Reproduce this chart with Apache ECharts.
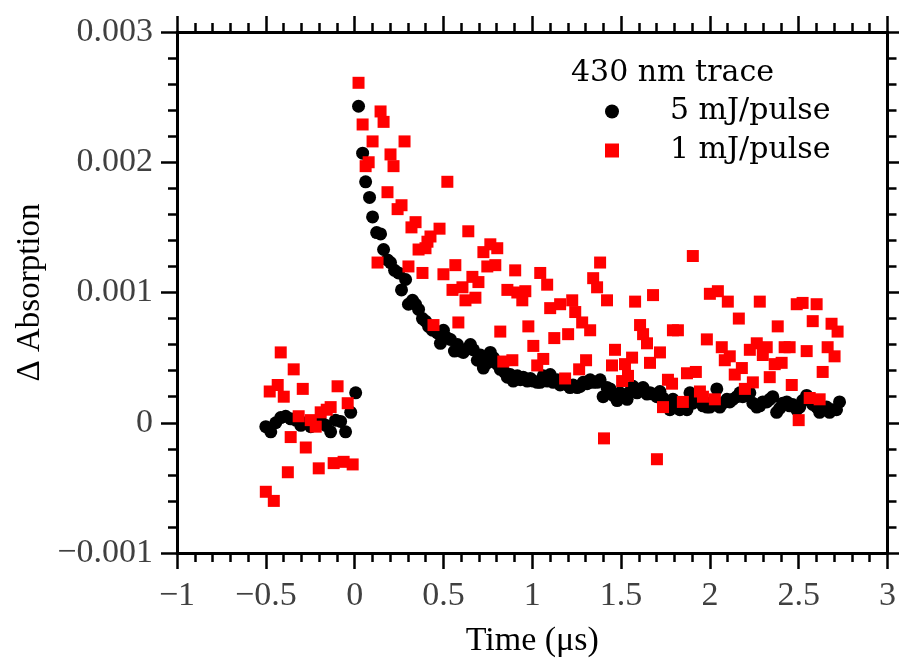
<!DOCTYPE html>
<html>
<head>
<meta charset="utf-8">
<script src="https://cdn.jsdelivr.net/npm/echarts@6/dist/echarts.min.js"></script>
<style>html,body{margin:0;padding:0;background:#fff;}#c{width:899px;height:664px;}</style>
</head>
<body>
<div id="c"></div>
<script>
// ---- data (time in µs, ΔAbsorption) ----
var blackTime = [
-0.500,-0.472,-0.444,-0.416,-0.388,-0.360,-0.331,-0.303,-0.275,-0.247,-0.219,-0.191,-0.163,-0.135,-0.107,-0.079,-0.051,-0.022,0.006,
0.022,0.045,0.062,0.084,0.101,0.124,0.146,0.163,0.185,0.202,0.225,0.247,0.264,0.287,0.303,0.326,0.343,0.360,0.382,0.399,
0.416,0.438,0.466,0.483,0.500,0.522,0.539,0.562,0.579,0.596,0.612,0.635,0.652,0.669,0.691,0.708,0.725,0.747,0.764,0.781,
0.803,0.820,0.843,0.860,0.876,0.893,0.916,0.933,0.949,0.972,0.989,1.006,1.028,1.045,1.062,1.084,1.101,1.118,1.140,1.157,
1.174,1.197,1.213,1.230,1.253,1.270,1.287,1.309,1.326,1.343,1.365,1.382,1.399,1.421,1.438,1.455,1.478,1.494,1.511,1.534,
1.551,1.567,1.590,1.607,1.624,1.646,1.663,1.680,1.702,1.719,1.736,1.758,1.775,1.792,1.815,1.831,1.848,1.871,1.888,1.904,
1.927,1.944,1.961,1.983,2.000,2.017,2.039,2.056,2.073,2.096,2.112,2.129,2.152,2.169,2.185,2.208,2.225,2.242,2.264,2.281,
2.298,2.320,2.337,2.354,2.376,2.393,2.410,2.433,2.449,2.466,2.489,2.506,2.522,2.545,2.562,2.579,2.601,2.618,2.635,2.657,
2.674,2.691,2.713,2.730
];
var blackAbs = [
-0.00003,-0.00007,0.00000,0.00004,0.00005,0.00003,0.00002,-0.00002,0.00000,-0.00003,0.00001,0.00001,-0.00002,-0.00007,0.00002,0.00001,-0.00007,0.00008,0.00023,
0.00243,0.00207,0.00185,0.00173,0.00158,0.00146,0.00145,0.00133,0.00125,0.00123,0.00117,0.00115,0.00102,0.00110,0.00091,0.00094,0.00091,0.00087,0.00080,0.00078,
0.00074,0.00071,0.00069,0.00061,0.00071,0.00065,0.00064,0.00055,0.00060,0.00055,0.00054,0.00057,0.00060,0.00056,0.00048,0.00052,0.00042,0.00046,0.00054,0.00050,
0.00045,0.00041,0.00039,0.00035,0.00037,0.00032,0.00036,0.00033,0.00035,0.00032,0.00034,0.00032,0.00031,0.00031,0.00036,0.00032,0.00037,0.00031,0.00033,0.00029,
0.00030,0.00029,0.00027,0.00029,0.00027,0.00028,0.00031,0.00030,0.00033,0.00031,0.00031,0.00033,0.00020,0.00027,0.00026,0.00021,0.00017,0.00023,0.00020,0.00018,
0.00024,0.00028,0.00023,0.00026,0.00027,0.00022,0.00023,0.00022,0.00020,0.00024,0.00019,0.00016,0.00010,0.00018,0.00014,0.00010,0.00015,0.00010,0.00023,0.00015,
0.00018,0.00017,0.00013,0.00012,0.00012,0.00016,0.00026,0.00012,0.00015,0.00018,0.00016,0.00018,0.00020,0.00023,0.00020,0.00021,0.00023,0.00015,0.00012,0.00013,
0.00016,0.00016,0.00018,0.00020,0.00008,0.00011,0.00015,0.00016,0.00013,0.00014,0.00010,0.00012,0.00017,0.00021,0.00019,0.00014,0.00012,0.00008,0.00010,0.00012,
0.00008,0.00010,0.00010,0.00016
];
var redTime = [
-0.500,-0.478,-0.455,-0.433,-0.416,-0.399,-0.376,-0.360,-0.343,-0.315,-0.292,-0.275,-0.247,-0.219,-0.202,-0.191,-0.157,-0.135,-0.118,-0.096,-0.062,-0.039,-0.011,
0.022,0.045,0.062,0.079,0.101,0.129,0.146,0.163,0.185,0.202,0.219,0.242,0.264,0.281,0.303,0.320,0.343,0.360,0.382,0.399,
0.410,0.427,0.444,0.478,0.500,0.522,0.551,0.567,0.584,0.607,0.624,0.640,0.663,0.680,0.697,0.725,0.747,0.764,0.792,0.803,
0.820,0.837,0.860,0.888,0.904,0.916,0.944,0.961,0.978,1.006,1.028,1.045,1.062,1.084,1.101,1.124,1.157,1.185,1.202,1.225,
1.242,1.264,1.281,1.303,1.326,1.343,1.365,1.382,1.404,1.421,1.449,1.466,1.506,1.522,1.539,1.562,1.579,1.607,1.624,1.646,
1.663,1.680,1.702,1.719,1.736,1.764,1.787,1.792,1.820,1.848,1.871,1.904,1.921,1.944,1.961,1.983,2.000,2.028,2.045,2.067,
2.084,2.101,2.112,2.140,2.163,2.180,2.197,2.225,2.242,2.264,2.281,2.298,2.320,2.337,2.365,2.382,2.404,2.421,2.449,2.461,
2.489,2.500,2.522,2.545,2.562,2.579,2.601,2.618,2.635,2.663,2.685,2.702,2.719
];
var redAbs = [
-0.00053,0.00024,-0.00060,0.00029,0.00054,0.00020,-0.00038,-0.00011,0.00041,0.00005,0.00026,-0.00019,0.00002,-0.00003,-0.00035,0.00008,0.00010,0.00012,-0.00031,0.00028,-0.00030,0.00015,-0.00032,
0.00261,0.00229,0.00197,0.00200,0.00216,0.00123,0.00239,0.00231,0.00177,0.00206,0.00197,0.00164,0.00167,0.00216,0.00120,0.00150,0.00154,0.00133,0.00115,0.00134,
0.00139,0.00143,0.00075,0.00149,0.00114,0.00185,0.00102,0.00121,0.00077,0.00104,0.00094,0.00147,0.00112,0.00096,0.00108,0.00131,0.00120,0.00137,0.00121,0.00134,
0.00070,0.00047,0.00102,0.00048,0.00117,0.00100,0.00094,0.00101,0.00074,0.00059,0.00044,0.00115,0.00049,0.00106,0.00088,0.00065,0.00091,0.00034,0.00068,0.00094,
0.00085,0.00041,0.00077,0.00048,0.00071,0.00111,0.00104,0.00123,-0.00012,0.00094,0.00044,0.00056,0.00032,0.00045,0.00036,0.00050,0.00093,0.00075,0.00068,0.00061,
0.00046,0.00098,-0.00028,0.00054,0.00012,0.00033,0.00030,0.00071,0.00071,0.00016,0.00038,0.00128,0.00039,0.00024,0.00020,0.00064,0.00099,0.00018,0.00101,0.00058,
0.00048,0.00093,0.00051,0.00037,0.00080,0.00042,0.00026,0.00056,0.00031,0.00061,0.00093,0.00052,0.00058,0.00035,0.00045,0.00074,0.00046,0.00058,0.00058,0.00029,
0.00091,0.00002,0.00092,0.00055,0.00019,0.00078,0.00091,0.00018,0.00039,0.00058,0.00076,0.00051,0.00070
];
var seriesNames = ['5 mJ/pulse', '1 mJ/pulse'];
var legendTitle = '430 nm trace';
var xAxisTitle = 'Time (\u03bcs)';
var yAxisTitle = '\u0394 Absorption';

function pairs(xs, ys) { return xs.map(function (x, i) { return [x, ys[i]]; }); }

var FONT = 'Liberation Serif';
var LEGEND_FONT = 'DejaVu Serif';
var LABEL_COLOR = '#404040';

function fmtX(v) {
  var r = Math.round(v * 10) / 10;
  if (r === 0) return '0';
  return String(r).replace('-', '\u2212');
}
function fmtY(v) {
  var r = Math.round(v * 1e6) / 1e6;
  if (Math.abs(r) < 1e-9) return '0';
  return r.toFixed(3).replace('-', '\u2212');
}

var axisLine = { show: true, onZero: false, lineStyle: { color: '#000', width: 3 } };
var majorTick = { show: true, inside: false, length: 16, lineStyle: { color: '#000', width: 2.5 } };
var minorTick = { show: true, splitNumber: 5, length: 9, lineStyle: { color: '#000', width: 2.5 } };

var chart = echarts.init(document.getElementById('c'), null, { renderer: 'canvas' });
chart.setOption({
  animation: false,
  backgroundColor: '#fff',
  title: {
    text: legendTitle, left: 566, top: 53,
    textStyle: { fontFamily: LEGEND_FONT, fontSize: 30, fontWeight: 'normal', color: '#000' }
  },
  legend: {
    orient: 'vertical', left: 600, top: 90,
    itemWidth: 14, itemHeight: 14, itemGap: 6,
    data: [
      { name: seriesNames[0], icon: 'circle' },
      { name: seriesNames[1], icon: 'path://M0,0L10,0L10,10L0,10Z' }
    ],
    textStyle: { fontFamily: LEGEND_FONT, fontSize: 30, color: '#000', padding: [0, 0, 0, 46], lineHeight: 33 }
  },
  grid: { left: 177, right: 10, top: 32, bottom: 111, containLabel: false },
  xAxis: [
    {
      type: 'value', min: -1, max: 3, interval: 0.5, position: 'bottom',
      name: xAxisTitle, nameLocation: 'middle', nameGap: 71,
      nameTextStyle: { fontFamily: FONT, fontSize: 34, color: '#000' },
      axisLine: axisLine, axisTick: majorTick, minorTick: minorTick,
      splitLine: { show: false }, minorSplitLine: { show: false },
      axisLabel: { formatter: fmtX, margin: 26, fontFamily: FONT, fontSize: 34, color: LABEL_COLOR, showMinLabel: true, showMaxLabel: true }
    },
    {
      type: 'value', min: -1, max: 3, interval: 0.5, position: 'top',
      axisLine: axisLine, axisTick: majorTick, minorTick: minorTick,
      splitLine: { show: false }, minorSplitLine: { show: false },
      axisLabel: { show: false }
    }
  ],
  yAxis: [
    {
      type: 'value', min: -0.001, max: 0.003, interval: 0.001, position: 'left',
      name: yAxisTitle, nameLocation: 'middle', nameGap: 114, nameRotate: 90,
      nameTextStyle: { fontFamily: FONT, fontSize: 33, color: '#000' },
      axisLine: axisLine, axisTick: majorTick, minorTick: minorTick,
      splitLine: { show: false }, minorSplitLine: { show: false },
      axisLabel: { formatter: fmtY, margin: 24, fontFamily: FONT, fontSize: 34, color: LABEL_COLOR, showMinLabel: true, showMaxLabel: true }
    },
    {
      type: 'value', min: -0.001, max: 0.003, interval: 0.001, position: 'right',
      axisLine: axisLine, axisTick: majorTick, minorTick: minorTick,
      splitLine: { show: false }, minorSplitLine: { show: false },
      axisLabel: { show: false }
    }
  ],
  series: [
    {
      name: seriesNames[0], type: 'scatter', xAxisIndex: 0, yAxisIndex: 0,
      symbol: 'circle', symbolSize: 13,
      itemStyle: { color: '#000', opacity: 1 },
      data: pairs(blackTime, blackAbs)
    },
    {
      name: seriesNames[1], type: 'scatter', xAxisIndex: 0, yAxisIndex: 0,
      symbol: 'rect', symbolSize: 12,
      itemStyle: { color: '#ff0000', opacity: 1 },
      data: pairs(redTime, redAbs)
    }
  ]
});
</script>
</body>
</html>
